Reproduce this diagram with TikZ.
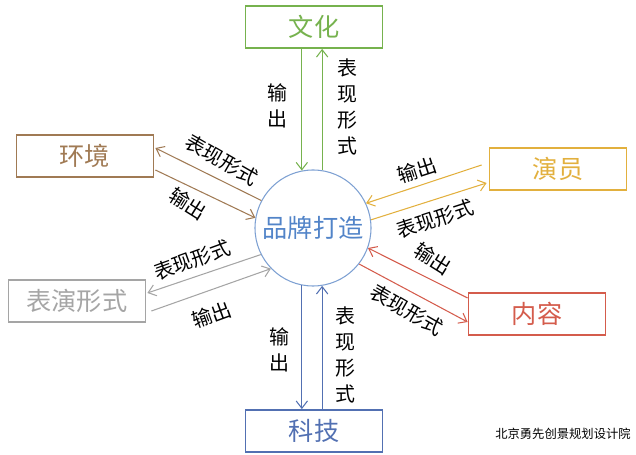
\documentclass[tikz,border=0pt]{standalone}
\usepackage{fontspec}
\setmainfont{Noto Sans CJK SC}
\usetikzlibrary{arrows.meta,calc}
\definecolor{cwenhua}{RGB}{118,178,78}
\definecolor{chuanjing}{RGB}{160,122,84}
\definecolor{cyanyuan}{RGB}{226,176,62}
\definecolor{cbiaoyan}{RGB}{165,165,165}
\definecolor{cneirong}{RGB}{212,92,76}
\definecolor{ckeji}{RGB}{82,112,178}
\definecolor{cbrand}{RGB}{125,160,210}
\definecolor{cbrandtext}{RGB}{82,132,200}
\tikzset{
  box/.style={draw, line width=1.5pt, minimum width=4.11cm, minimum height=1.26cm, inner sep=0pt, font=\fontsize{21.5}{24}\selectfont},
  flow/.style={line width=0.9pt, -{Straight Barb[length=2.2mm,width=3.4mm]}},
  lbl/.style={font=\fontsize{17}{22}\selectfont, inner sep=0pt, align=center},
}
\begin{document}
\begin{tikzpicture}[x=0.03cm,y=-0.03cm]
\useasboundingbox (0,0) rectangle (636,455);
\node[draw=cbrand, line width=0.9pt, circle, minimum size=3.48cm, inner sep=0pt, text=cbrandtext, font=\fontsize{21.5}{24}\selectfont] (brand) at (313,228) {品牌打造};
\node[box, draw=cwenhua, text=cwenhua] (wenhua) at (314,27) {文化};
\node[box, draw=chuanjing, text=chuanjing] (huanjing) at (85,156) {环境};
\node[box, draw=cyanyuan, text=cyanyuan] (yanyuan) at (558,169) {演员};
\node[box, draw=cbiaoyan, text=cbiaoyan] (biaoyan) at (77,301) {表演形式};
\node[box, draw=cneirong, text=cneirong] (neirong) at (537,314) {内容};
\node[box, draw=ckeji, text=ckeji] (keji) at (314,431) {科技};
\node[font=\fontsize{10.5}{13}\selectfont] (mark) at (563,434) {北京勇先创景规划设计院};
% top and bottom
\draw[flow, cwenhua] (wenhua.south -| brand.101) -- (brand.101);
\draw[flow, cwenhua] (brand.81) -- (wenhua.south -| brand.81);
\draw[flow, ckeji] (brand.259) -- (keji.north -| brand.259);
\draw[flow, ckeji] (keji.north -| brand.279) -- (brand.279);
\node[lbl] (wenhuaout) at (277,106) {输\\出};
\node[lbl] (wenhuaform) at (347,107) {表\\现\\形\\式};
\node[lbl] (kejiout) at (279,350) {输\\出};
\node[lbl] (kejiform) at (345,355) {表\\现\\形\\式};
% left side
\draw[flow, chuanjing] (brand.152) -- ($(huanjing.east)+(1,-8)$);
\draw[flow, chuanjing] ($(huanjing.east)+(1,14)$) -- (brand.170);
\node[lbl, rotate=-30] (huanjingform) at (222,160) {表现形式};
\node[lbl, rotate=-32] (huanjingout) at (188,204) {输出};
\draw[flow, cbiaoyan] (brand.207) -- ($(biaoyan.east)+(1,-8)$);
\draw[flow, cbiaoyan] ($(biaoyan.east)+(5,10)$) -- (brand.224);
\node[lbl, rotate=20] (biaoyanform) at (192,260) {表现形式};
\node[lbl, rotate=20] (biaoyanout) at (212,315) {输出};
% right side
\draw[flow, cyanyuan] ($(yanyuan.west)+(-7,-4)$) -- (brand.25);
\draw[flow, cyanyuan] (brand.8) -- ($(yanyuan.west)+(-2,14)$);
\node[lbl, rotate=18] (yanyuanout) at (417,170) {输出};
\node[lbl, rotate=18] (yanyuanform) at (435,219) {表现形式};
\draw[flow, cneirong] ($(neirong.west)+(0,-16)$) -- (brand.340);
\draw[flow, cneirong] (brand.322) -- ($(neirong.west)+(0,8)$);
\node[lbl, rotate=-32] (neirongout) at (433,259) {输出};
\node[lbl, rotate=-30] (neirongform) at (407,310) {表现形式};
\end{tikzpicture}
\end{document}
